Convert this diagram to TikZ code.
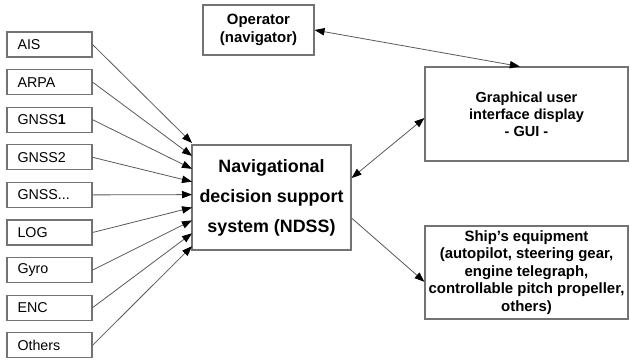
\documentclass[tikz,border=0pt]{standalone}
\usepackage{fontspec}
\setmainfont{Liberation Sans}
\usetikzlibrary{arrows.meta}
\newcommand{\gnssmore}{GNSS...}

\begin{document}
\begin{tikzpicture}[x=0.75pt,y=0.75pt,yscale=-1,xscale=1,
  box/.style={draw=black!55,line width=0.8pt,inner sep=0.75pt,align=center},
  srcbox/.style={box,minimum width=63.75pt,minimum height=18.75pt,text width=48pt,inner xsep=7.5pt,align=left,
    font=\fontsize{10.7}{12}\selectfont},
  link/.style={draw=black!65,line width=0.6pt,-{Triangle[length=7.5pt,width=5.5pt,color=black]}},
  duplex/.style={link,{Triangle[length=7.5pt,width=5.5pt,color=black]}-{Triangle[length=7.5pt,width=5.5pt,color=black]}}]
\useasboundingbox (0,0) rectangle (630,360);

%Shape: Rectangle 
\node (ndss) at (271.5,197.5) [box,minimum width=119.25pt,minimum height=78.75pt,
  font=\fontsize{13.4}{22.5}\selectfont\bfseries] {Navigational\\decision support\\system (NDSS)};
%Shape: Rectangle 
\node (oper) at (258.5,30) [box,minimum width=83.25pt,minimum height=37.5pt,
  font=\fontsize{11.2}{13.5}\selectfont\bfseries] {Operator\\(navigator)};
%Shape: Rectangle 
\node (gui) at (526.5,114) [box,minimum width=152.25pt,minimum height=70.5pt,
  font=\fontsize{10.9}{12.75}\selectfont\bfseries] {Graphical user\\interface display\\- GUI -};
%Shape: Rectangle 
\node (ship) at (526.5,272.5) [box,minimum width=152.25pt,minimum height=69.75pt,
  font=\fontsize{11.2}{13.1}\selectfont\bfseries] {Ship's equipment\\(autopilot, steering gear,\\engine telegraph,\\controllable pitch propeller,\\others)};

%Sources and their Straight Lines 
\foreach \lbl [count=\i from 0] in {AIS,ARPA,GNSS\textbf{1},GNSS2,\gnssmore,LOG,Gyro,ENC,Others}{
  \node (src\i) at (49.5,{44.5+37.6*\i}) [srcbox] {\lbl};
  \coordinate (in\i) at (192,{143+12.9*\i});
  \draw [link] (src\i.east) -- (in\i);
}

%Straight Lines 
\draw [duplex] (oper.east) -- ([xshift=-5pt]gui.north);
%Straight Lines 
\draw [duplex] ([yshift=-14.6pt]ndss.east) -- ([yshift=3pt]gui.west);
%Straight Lines 
\draw [link] ([yshift=15.4pt]ndss.east) -- ([yshift=7pt]ship.west);

\end{tikzpicture}
\end{document}
